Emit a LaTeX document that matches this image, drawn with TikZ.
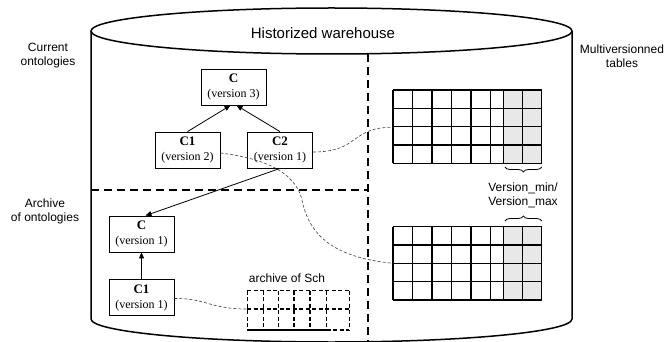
\documentclass[tikz,border=0pt]{standalone}
\usepackage{fontspec}
\setmainfont{Liberation Serif}
\setsansfont{Liberation Sans}
\usetikzlibrary{arrows.meta,decorations.pathreplacing}
\begin{document}
\begin{tikzpicture}[x=1pt,y=-1pt,
  cbox/.style={draw, line width=0.8pt, minimum width=65pt, minimum height=36pt, inner sep=0pt, align=center, font=\fontsize{12}{15}\selectfont},
  sepline/.style={line width=2pt, dash pattern=on 8pt off 5pt},
  inh/.style={-{Triangle[length=6pt,width=5pt]}, line width=0.8pt},
  link/.style={line width=0.6pt, dash pattern=on 3pt off 2pt, black!75},
  tab/.style={line width=1.2pt},
  dgrid/.style={line width=1.2pt, dash pattern=on 4pt off 2.5pt},
  lbl/.style={font=\sffamily\fontsize{12}{14}\selectfont, align=center},
  bracestyle/.style={line width=0.8pt, decorate, decoration={brace, amplitude=5pt}}
]
\useasboundingbox (0,0) rectangle (669,342);
% cylinder
\draw[line width=1.5pt] (91,31) -- (91,319) arc[start angle=180,end angle=0,x radius=240.5,y radius=23] -- (572,31);
\draw[line width=1.5pt, fill=white] (331.5,31) ellipse[x radius=240.5, y radius=23];
\node[font=\sffamily\fontsize{15}{18}\selectfont] (title) at (323,33) {Historized warehouse};
% separators
\draw[sepline] (368,54) -- (368,342);
\draw[sepline] (91,190) -- (368,190);
% side labels
\node[lbl] (cur) at (48,56) {Current\\ontologies};
\node[lbl] (arc) at (45,211) {Archive\\of ontologies};
\node[lbl] (mvt) at (622,56) {Multiversionned\\tables};
% tables
\fill[gray!18] (503.3,90) rectangle (541.7,163.3);
\fill[gray!18] (503.3,226.7) rectangle (541.7,300);
\foreach \x in {393,412.7,432,451.7,471,490.7,503.3,522.3,541.7} {
  \draw[tab] (\x,90) -- (\x,163.3);
  \draw[tab] (\x,226.7) -- (\x,300);
}
\foreach \i in {0,...,4} {
  \draw[tab] (393,{90+18.325*\i}) -- (541.7,{90+18.325*\i});
  \draw[tab] (393,{226.7+18.325*\i}) -- (541.7,{226.7+18.325*\i});
}
\coordinate (ta) at (393,127.3);
\coordinate (tb) at (393,263.3);
\draw[bracestyle] (541.7,167) -- (505,167);
\draw[bracestyle] (505,221) -- (541.7,221);
\node[lbl] (vm) at (523,195) {Version\_min/\\Version\_max};
% archive of Sch
\node[lbl] (sch) at (287,278) {archive of Sch};
\foreach \x in {247.3,263.3,278.3,294,310,326.7,349.3}
  \draw[dgrid] (\x,290.7) -- (\x,330);
\draw[dgrid] (247.3,290.7) -- (349.3,290.7);
\draw[dgrid] (247.3,309) -- (349.3,309);
\draw[line width=1.2pt] (247.3,330) -- (326.7,330);
\draw[dgrid] (326.7,330) -- (349.3,330);
\coordinate (sa) at (247.3,309);
% ontology boxes
\node[cbox] (c3) at (233.5,87) {{\fontsize{13}{15}\selectfont\bfseries C}\\(version 3)};
\node[cbox] (c1) at (187.5,150) {{\fontsize{13}{15}\selectfont\bfseries C1}\\(version 2)};
\node[cbox] (c2) at (280,150) {{\fontsize{13}{15}\selectfont\bfseries C2}\\(version 1)};
\node[cbox] (cv1) at (141.5,234) {{\fontsize{13}{15}\selectfont\bfseries C}\\(version 1)};
\node[cbox] (c1v1) at (141.5,297.5) {{\fontsize{13}{15}\selectfont\bfseries C1}\\(version 1)};
% inheritance arrows
\draw[inh] (c1.north) -- ([xshift=-3pt]c3.south);
\draw[inh] (c2.north) -- ([xshift=3pt]c3.south);
\draw[inh] (c2.south) -- ([xshift=4pt]cv1.north);
\draw[inh] (c1v1.north) -- (cv1.south);
% dashed links
\draw[link] ([yshift=-2pt]c2.east) .. controls (360,152) and (350,127) .. (ta);
\draw[link] ([yshift=-3pt]c1.east) .. controls (260,158) and (295,170) .. (302,200) .. controls (310,240) and (340,258) .. (tb);
\draw[link] ([yshift=-1pt]c1v1.east) .. controls (205,298) and (210,309) .. (sa);
\end{tikzpicture}
\end{document}
